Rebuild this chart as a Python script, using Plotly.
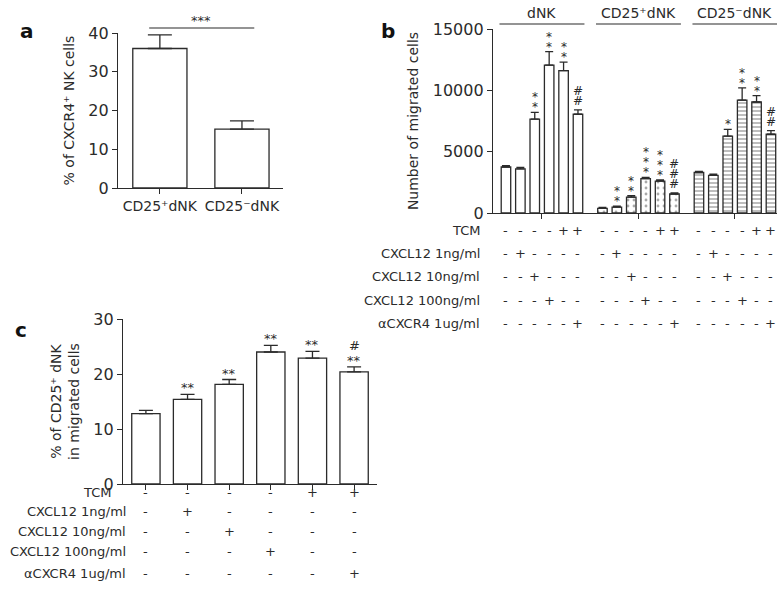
import plotly.graph_objects as go

W, H = 784, 594
FONT = "DejaVu Sans"
INK = "#2b2b2b"

# panel a
a_labels = ["CD25⁺dNK", "CD25⁻dNK"]
a_mean = [36.0, 15.2]
a_err = [3.5, 2.1]

# panel b
b_groups = ["dNK", "CD25⁺dNK", "CD25⁻dNK"]
b_dnk = [3750, 3600, 7650, 12050, 11600, 8050]
b_dnk_err = [100, 120, 550, 1100, 700, 350]
b_pos = [380, 480, 1300, 2800, 2600, 1550]
b_pos_err = [70, 80, 110, 100, 90, 90]
b_neg = [3300, 3060, 6260, 9200, 9050, 6420]
b_neg_err = [100, 100, 550, 1000, 520, 300]
b_stars = [[0, 0, 2, 2, 2, 0], [0, 2, 2, 3, 3, 0], [0, 0, 1, 2, 2, 0]]
b_hash = [[0, 0, 0, 0, 0, 2], [0, 0, 0, 0, 0, 3], [0, 0, 0, 0, 0, 2]]

# panel c
c_mean = [12.8, 15.4, 18.1, 24.0, 22.9, 20.4]
c_err = [0.6, 0.9, 0.9, 1.2, 1.2, 0.9]
c_stars = ["", "**", "**", "**", "**", "**"]
c_hash = ["", "", "", "", "", "#"]

# treatment table
conditions = ["TCM", "CXCL12 1ng/ml", "CXCL12 10ng/ml", "CXCL12 100ng/ml", "αCXCR4 1ug/ml"]
signs = [
    ["-", "-", "-", "-", "+", "+"],
    ["-", "+", "-", "-", "-", "-"],
    ["-", "-", "+", "-", "-", "-"],
    ["-", "-", "-", "+", "-", "-"],
    ["-", "-", "-", "-", "-", "+"],
]


def px(x):
    return x / W


def py(y):
    return 1 - y / H


G = 6.7  # slot offset between groups in panel b
b_x = [[g * G + i for i in range(6)] for g in range(3)]

fig = go.Figure()

bar_line = dict(color=INK, width=1.3)


def err(vals, w):
    return dict(type="data", symmetric=False, array=vals, arrayminus=[0] * len(vals),
                color=INK, thickness=1.3, width=w)


fig.add_trace(go.Bar(x=[0, 1], y=a_mean, width=0.66, marker=dict(color="white", line=bar_line),
                     error_y=err(a_err, 12), xaxis="x", yaxis="y"))

patterns = [None,
            dict(shape=".", size=6, solidity=0.18, fgcolor="#555", bgcolor="white"),
            dict(shape="-", size=4, solidity=0.35, fgcolor="#444", bgcolor="white")]
b_vals = [b_dnk, b_pos, b_neg]
b_errs = [b_dnk_err, b_pos_err, b_neg_err]
for g in range(3):
    m = dict(color="white", line=bar_line)
    if patterns[g]:
        m["pattern"] = patterns[g]
    fig.add_trace(go.Bar(x=b_x[g], y=b_vals[g], width=0.66, marker=m,
                         error_y=err(b_errs[g], 4), xaxis="x2", yaxis="y2"))

fig.add_trace(go.Bar(x=list(range(6)), y=c_mean, width=0.68, marker=dict(color="white", line=bar_line),
                     error_y=err(c_err, 7), xaxis="x3", yaxis="y3"))

ax = dict(showline=True, linecolor=INK, linewidth=1.3, ticks="outside", ticklen=5, tickwidth=1.3,
          tickcolor=INK, showgrid=False, zeroline=False, automargin=False,
          tickfont=dict(family=FONT, size=14, color=INK))
yax = dict(ax, tickfont=dict(family=FONT, size=16, color=INK), tickformat="d")
ttl = dict(family=FONT, size=14, color=INK)

fig.update_layout(
    width=W, height=H, margin=dict(l=0, r=0, t=0, b=0),
    paper_bgcolor="white", plot_bgcolor="white", showlegend=False,
    font=dict(family=FONT, color=INK),
    xaxis=dict(ax, domain=[px(118), px(283)], range=[-0.51, 1.5], tickvals=[0, 1], ticktext=a_labels,
               anchor="y"),
    yaxis=dict(yax, domain=[py(188), py(33)], range=[0, 40], tickvals=[0, 10, 20, 30, 40], anchor="x",
               title=dict(text="% of CXCR4⁺ NK cells", font=ttl, standoff=10)),
    xaxis2=dict(ax, domain=[px(493), px(777)], range=[-0.9, 2 * G + 5.42],
                tickvals=[g * G + 2.5 for g in range(3)], showticklabels=False, anchor="y2"),
    yaxis2=dict(yax, domain=[py(213), py(29)], range=[0, 15000], tickvals=[0, 5000, 10000, 15000],
                anchor="x2",
                title=dict(text="Number of migrated cells", font=ttl, standoff=10)),
    xaxis3=dict(ax, domain=[px(123), px(377)], range=[-0.55, 5.55], tickvals=list(range(6)),
                showticklabels=False, anchor="y3"),
    yaxis3=dict(yax, domain=[py(484), py(319)], range=[0, 30], tickvals=[0, 10, 20, 30], anchor="x3",
                title=dict(text="% of CD25⁺ dNK<br>in migrated cells", font=ttl, standoff=10)),
)

ann = []


def note(**k):
    base = dict(showarrow=False, font=dict(family=FONT, size=13, color=INK))
    base.update(k)
    ann.append(base)


# panel letters
for t, x, y in [("a", 18, 17), ("b", 388, 17), ("c", 13, 330)]:
    note(text="<b>%s</b>" % t, x=px(x), y=py(y), xref="paper", yref="paper",
         font=dict(family=FONT, size=20, color="#111"))

# panel a significance
fig.add_shape(type="line", xref="x", yref="paper", x0=-0.13, x1=1.15, y0=py(28), y1=py(28),
              line=dict(color=INK, width=1.2))
note(text="***", x=0.5, y=py(28), xref="x", yref="paper", yanchor="bottom", yshift=-2)

# panel b group headers
for g, name in enumerate(b_groups):
    fig.add_shape(type="line", xref="x2", yref="paper", x0=g * G - 0.45, x1=g * G + 5.45,
                  y0=py(24), y1=py(24), line=dict(color=INK, width=1.2))
    note(text=name, x=g * G + 2.5, y=py(24), xref="x2", yref="paper", yanchor="bottom", yshift=1,
         font=dict(family=FONT, size=14, color=INK))

# panel b stars / hashes
for g in range(3):
    for i in range(6):
        top = b_vals[g][i] + b_errs[g][i]
        syms = ["#"] * b_hash[g][i] + ["*"] * b_stars[g][i]
        for k, s in enumerate(syms):
            note(text=s, x=b_x[g][i], y=top, xref="x2", yref="y2", yanchor="bottom",
                 yshift=(-4 if s == "*" else 0) + k * 10, font=dict(family=FONT, size=12, color=INK))

# panel c stars / hashes
for i in range(6):
    top = c_mean[i] + c_err[i]
    if c_stars[i]:
        note(text=c_stars[i], x=i, y=top, xref="x3", yref="y3", yanchor="bottom", yshift=-3)
    if c_hash[i]:
        note(text=c_hash[i], x=i, y=top, xref="x3", yref="y3", yanchor="bottom", yshift=12)

# treatment tables
rows_b = [231, 253, 277, 300, 323]
rows_c = [502, 521, 541, 561, 583]
for r, cond in enumerate(conditions):
    note(text=cond, x=px(482), y=py(rows_b[r]), xref="paper", yref="paper", xanchor="right")
    note(text=cond, x=px(113 if r == 0 else 128), y=py(rows_c[r]), xref="paper", yref="paper",
         xanchor="right")
    for g in range(3):
        for i in range(6):
            note(text=signs[r][i], x=b_x[g][i], y=py(rows_b[r]), xref="x2", yref="paper")
    for i in range(6):
        note(text=signs[r][i], x=i, y=py(rows_c[r]), xref="x3", yref="paper")

fig.update_layout(annotations=ann)
# drop the default page margin so the figure sits at the window's corner
fig.write_html("out.html", config={"displayModeBar": False},
               post_script="document.body.style.margin='0';")
